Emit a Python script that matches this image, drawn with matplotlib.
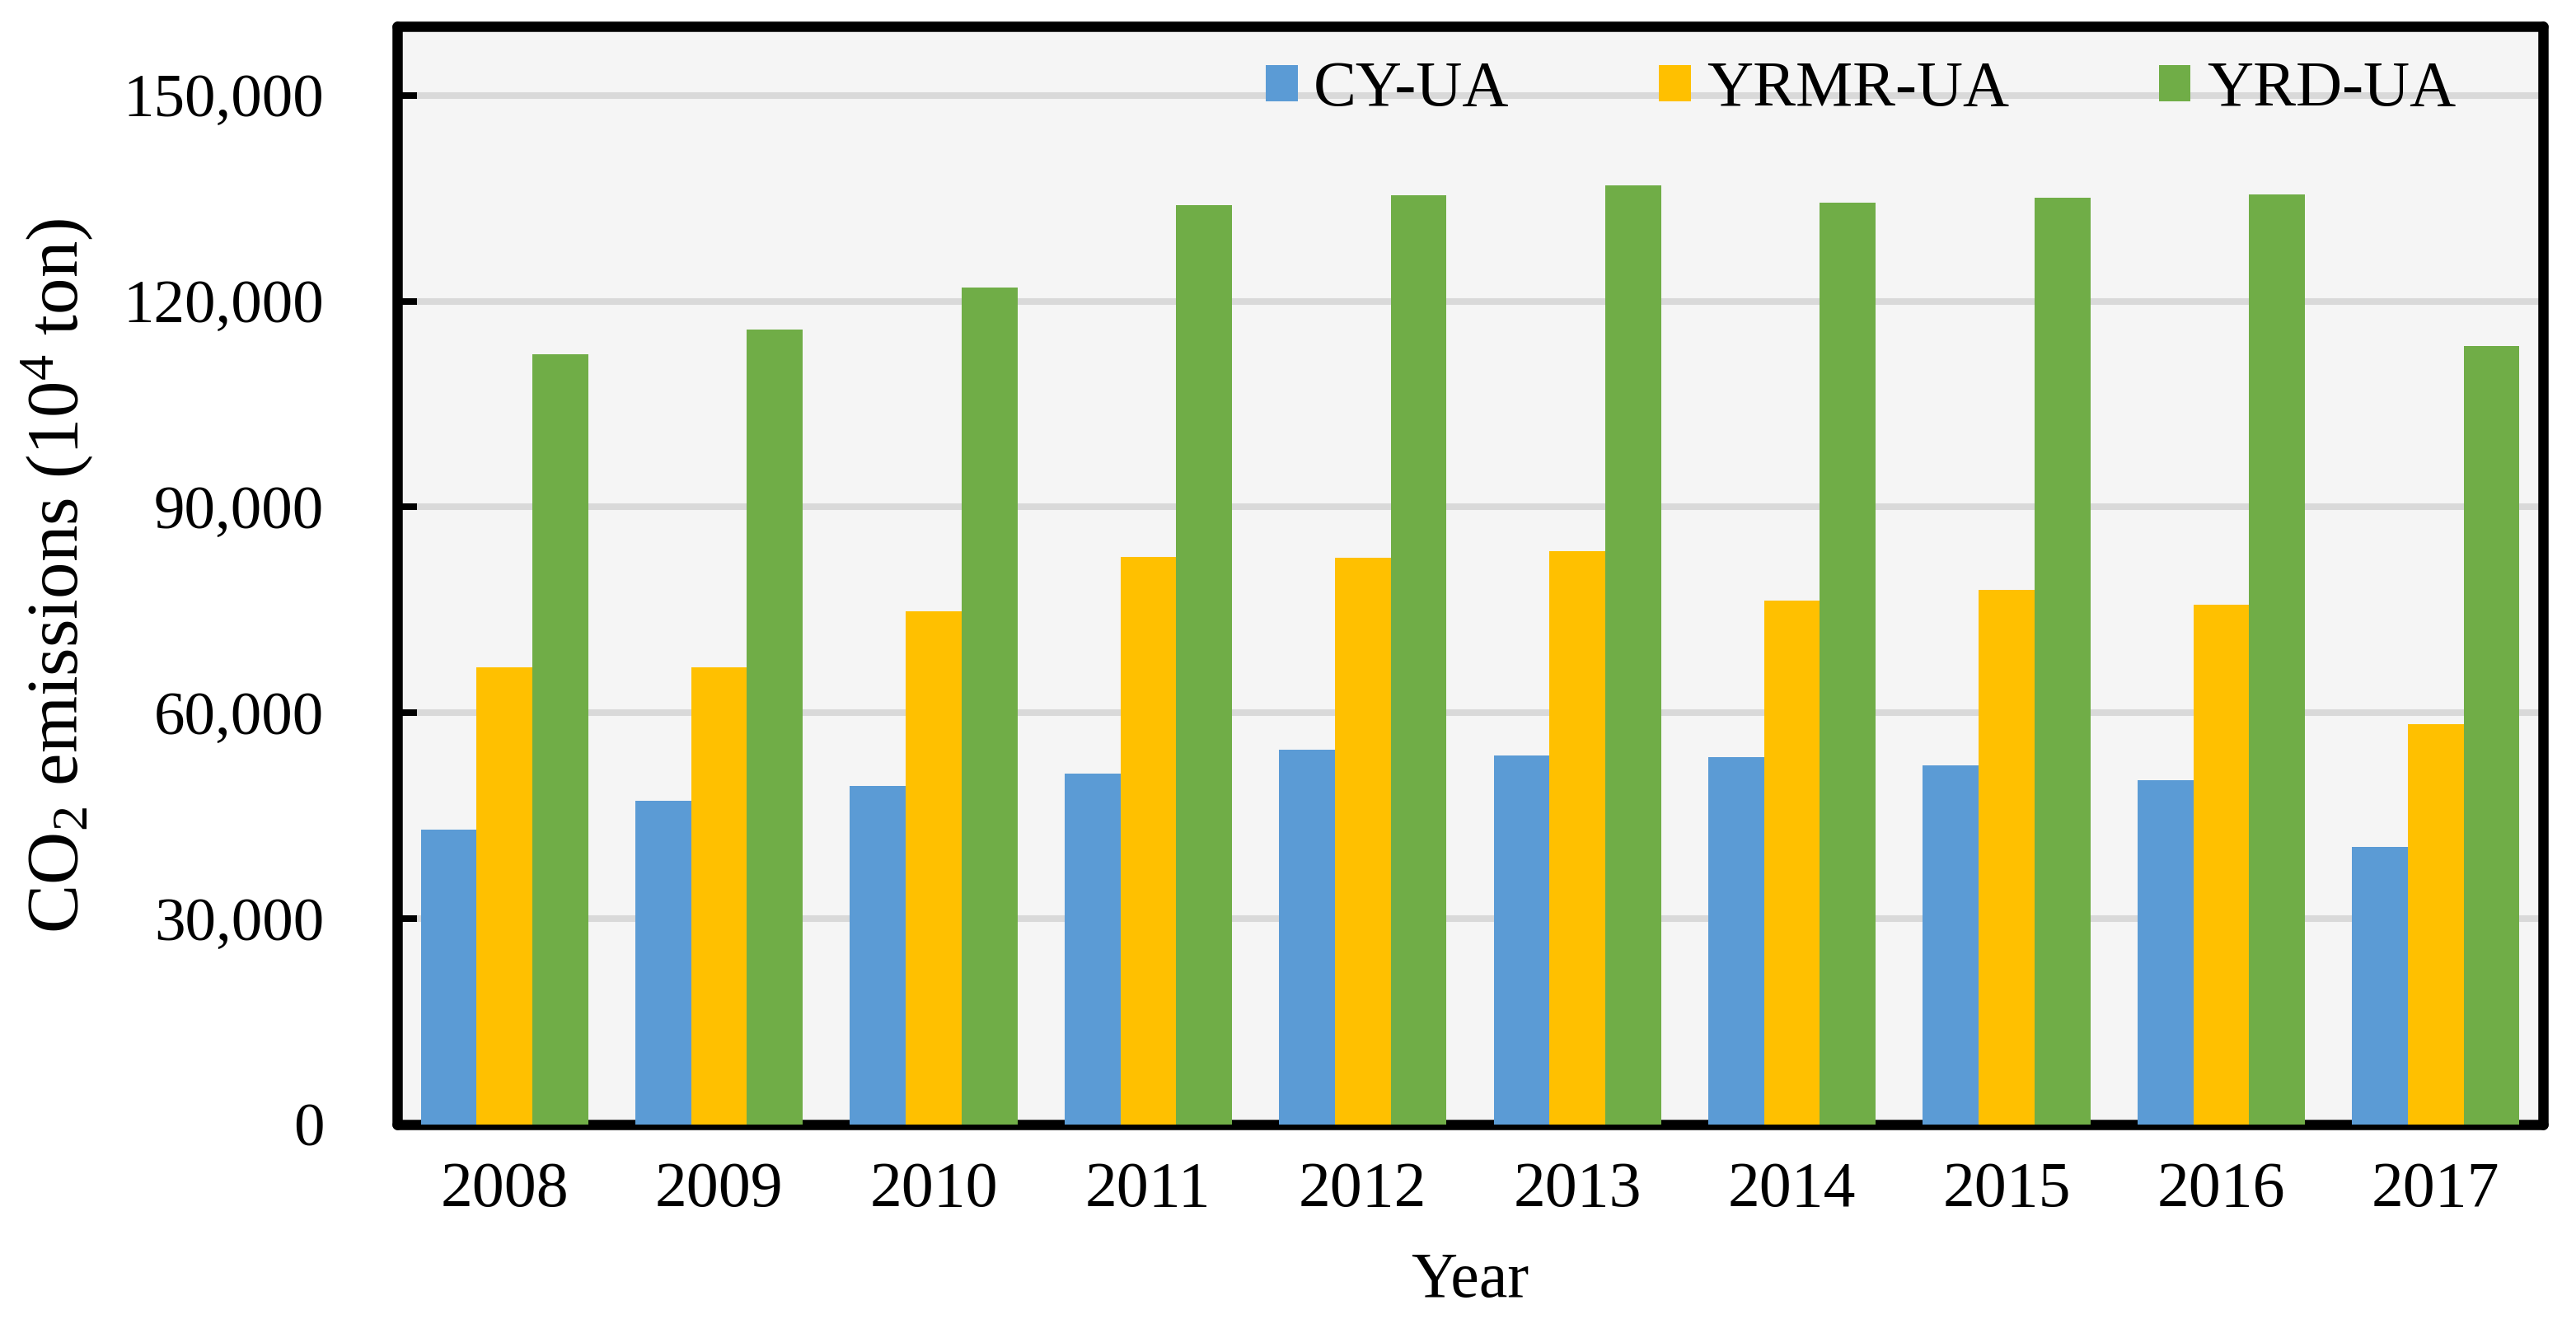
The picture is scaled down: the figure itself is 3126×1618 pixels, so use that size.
import matplotlib
matplotlib.use("Agg")
import matplotlib.pyplot as plt
import numpy as np
from matplotlib.ticker import FuncFormatter

years = ["2008", "2009", "2010", "2011", "2012", "2013", "2014", "2015", "2016", "2017"]
series_names = ["CY-UA", "YRMR-UA", "YRD-UA"]
cy_ua = [43000, 47200, 49400, 51100, 54600, 53800, 53500, 52300, 50200, 40400]
yrmr_ua = [66600, 66600, 74800, 82700, 82600, 83600, 76300, 77900, 75700, 58400]
yrd_ua = [112300, 115800, 122000, 134000, 135400, 136900, 134400, 135100, 135500, 113400]
yticks = [0, 30000, 60000, 90000, 120000, 150000]
colors = ["#5B9BD5", "#FFC000", "#70AD47"]

plt.rcParams['font.family'] = ['Liberation Serif', 'DejaVu Serif']
plt.rcParams['mathtext.fontset'] = 'custom'
plt.rcParams['mathtext.rm'] = 'Liberation Serif'
plt.rcParams['mathtext.it'] = 'Liberation Serif:italic'

fig = plt.figure(figsize=(15.63, 8.09), dpi=200)
ax = fig.add_axes([0.1542, 0.1564, 0.9872 - 0.1542, 0.980 - 0.1564])
ax.set_facecolor("#F5F5F5")

x = np.arange(len(years))
w = 0.26
for i, (vals, name, c) in enumerate(zip([cy_ua, yrmr_ua, yrd_ua], series_names, colors)):
    ax.bar(x + (i - 1) * w, vals, width=w, color=c, label=name, zorder=3)

ax.set_xlim(-0.5, len(years) - 0.5)
ax.set_ylim(0, 160000)
ax.set_yticks(yticks)
ax.yaxis.set_major_formatter(FuncFormatter(lambda v, p: f"{int(v):,}"))
ax.set_xticks(x)
ax.set_xticklabels(years)

ax.grid(axis='y', color="#D9D9D9", linewidth=2.9, zorder=1)
ax.set_axisbelow(True)

for s in ax.spines.values():
    s.set_linewidth(4.5)
    s.set_color("black")
    s.set_joinstyle('round')
    s.set_capstyle('round')

ax.tick_params(axis='y', direction='in', length=8.5, width=2.9, labelsize=27, pad=32, colors='black')
ax.tick_params(axis='x', length=0, labelsize=28, pad=16)

ax.set_ylabel(r"CO$_2$ emissions (10$^4$ ton)", fontsize=32, labelpad=12)
ax.set_xlabel("Year", fontsize=28, labelpad=14)

leg = ax.legend(loc='center', bbox_to_anchor=(0.682, 0.942), ncol=3, frameon=False,
                fontsize=28, handlelength=0.5, handleheight=0.5, handletextpad=0.25,
                columnspacing=2.33, borderpad=0)

fig.savefig("out.png", dpi=200, facecolor="white")
